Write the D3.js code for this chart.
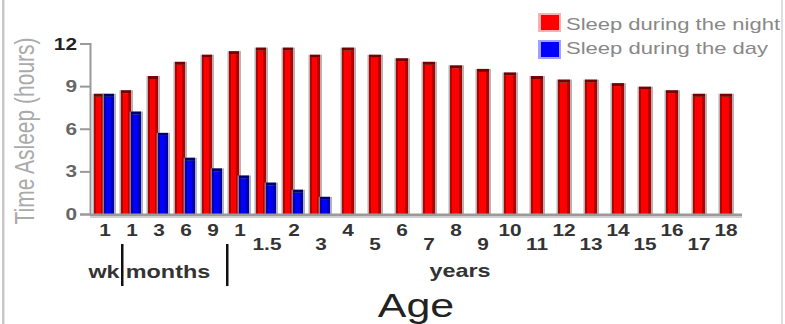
<!DOCTYPE html>
<html>
<head>
<meta charset="utf-8">
<script src="https://cdn.jsdelivr.net/npm/d3@7"></script>
<style>
  html, body { margin: 0; padding: 0; background: #fff; }
  svg { display: block; font-family: "Liberation Sans", Arial, sans-serif; }
</style>
</head>
<body>
<svg id="chart" width="785" height="324"></svg>
<script>
// ---- data ----
const categories = ["1wk","1mo","3mo","6mo","9mo","1yr","1.5yr","2yr","3yr","4yr","5yr","6yr","7yr","8yr","9yr","10yr","11yr","12yr","13yr","14yr","15yr","16yr","17yr","18yr"];
const tickLabels = ["1","1","3","6","9","1","1.5","2","3","4","5","6","7","8","9","10","11","12","13","14","15","16","17","18"];
const nightSleep = [8.25, 8.5, 9.5, 10.5, 11, 11.25, 11.5, 11.5, 11, 11.5, 11, 10.75, 10.5, 10.25, 10, 9.75, 9.5, 9.25, 9.25, 9, 8.75, 8.5, 8.25, 8.25];
const daySleep = [8.25, 7, 5.5, 3.75, 3, 2.5, 2, 1.5, 1, null, null, null, null, null, null, null, null, null, null, null, null, null, null, null];
const yTicks = [0, 3, 6, 9, 12];
const seriesNames = ["Sleep during the night", "Sleep during the day"];
const unitLabels = ["wk", "months", "years"];

// ---- layout ----
const SX = 1.3; // horizontal stretch of the original picture's text
const svg = d3.select("#chart");
const x = d3.scaleBand().domain(categories).range([91.5, 739.5]).padding(0);
const y = d3.scaleLinear().domain([0, 12]).range([214, 43.5]);
const base = y(0);

function stext(g, px, py, str, size, color, anchor, weight) {
  return g.append("text")
    .attr("transform", `translate(${px},${py}) scale(${SX},1)`)
    .attr("text-anchor", anchor || "middle")
    .attr("font-size", size)
    .attr("font-weight", weight || "normal")
    .attr("fill", color)
    .text(str);
}

// frame lines
svg.append("rect").attr("x", 2).attr("y", 0).attr("width", 2.5).attr("height", 324).attr("fill", "#c8c8c8");
svg.append("rect").attr("x", 781).attr("y", 0).attr("width", 2).attr("height", 324).attr("fill", "#dedede");

// y axis
const yAxis = d3.axisLeft(y).tickValues(yTicks).tickSize(10).tickFormat("");
const gy = svg.append("g").attr("transform", "translate(90,0)").call(yAxis);
gy.selectAll("path.domain").attr("stroke", "#999").attr("stroke-width", 2);
gy.selectAll(".tick line").attr("stroke", "#999").attr("stroke-width", 2);
yTicks.forEach(t => {
  stext(svg, 77, y(t) + 6, String(t), 16, t === 12 ? "#222" : "#666", "end", "bold");
});

// y label
svg.append("text")
  .attr("transform", `translate(34,131) scale(${SX},1) rotate(-90)`)
  .attr("text-anchor", "middle")
  .attr("font-size", 21)
  .attr("fill", "#aaa")
  .text("Time Asleep (hours)");

// bars
function drawBar(g, cx0, w, v, fill, dark, mid) {
  const top = y(v);
  g.append("rect").attr("x", cx0 - 1.5).attr("y", top - 3).attr("width", w + 3.5).attr("height", base - top + 3)
    .attr("fill", "#9a9a9a").attr("opacity", 0.75);
  g.append("rect").attr("x", cx0).attr("y", top).attr("width", w).attr("height", base - top).attr("fill", fill);
  g.append("rect").attr("x", cx0).attr("y", top).attr("width", 2).attr("height", base - top).attr("fill", mid);
  g.append("rect").attr("x", cx0 + w - 3).attr("y", top).attr("width", 3).attr("height", base - top).attr("fill", mid);
  g.append("rect").attr("x", cx0).attr("y", top - 3).attr("width", w).attr("height", 3).attr("fill", dark);
}
const gb = svg.append("g");
categories.forEach((c, i) => {
  const cx = x(c) + x.bandwidth() / 2;
  if (daySleep[i] != null) {
    drawBar(gb, cx - 11, 10, nightSleep[i], "#ff0000", "#7a0000", "#b30000");
    drawBar(gb, cx - 1, 10, daySleep[i], "#0000ff", "#000070", "#0000b0");
  } else {
    drawBar(gb, cx - 6, 12, nightSleep[i], "#ff0000", "#7a0000", "#b30000");
  }
});

// x axis line
svg.append("rect").attr("x", 90).attr("y", 213.5).attr("width", 652).attr("height", 3).attr("fill", "#9a9a9a");
svg.append("rect").attr("x", 90).attr("y", 216.5).attr("width", 652).attr("height", 1.5).attr("fill", "#d0d0d0");

// x tick labels (two staggered rows)
categories.forEach((c, i) => {
  const cx = x(c) + x.bandwidth() / 2;
  const lower = i >= 6 && i % 2 === 0;
  stext(svg, cx, lower ? 250 : 236, tickLabels[i], 16, "#333", "middle", "bold");
});

// unit labels and separators
svg.append("rect").attr("x", 121).attr("y", 244).attr("width", 2.5).attr("height", 42).attr("fill", "#111");
svg.append("rect").attr("x", 226).attr("y", 244).attr("width", 2.5).attr("height", 42).attr("fill", "#111");
stext(svg, 104, 278, unitLabels[0], 18, "#333", "middle", "bold");
stext(svg, 168, 278, unitLabels[1], 18, "#333", "middle", "bold");
stext(svg, 460, 277, unitLabels[2], 18, "#333", "middle", "bold");

// axis title
stext(svg, 416, 317, "Age", 33, "#222", "middle");

// legend
const colors = ["#ff0000", "#0000ff"];
const borders = ["#ffb0b0", "#a0a0ff"];
seriesNames.forEach((n, k) => {
  const ly = k === 0 ? 13 : 40;
  svg.append("rect").attr("x", 538).attr("y", ly).attr("width", 23).attr("height", 19).attr("fill", borders[k]);
  svg.append("rect").attr("x", 541).attr("y", ly + 2).attr("width", 18).attr("height", 15).attr("fill", colors[k]);
  svg.append("text")
    .attr("x", 566).attr("y", k === 0 ? 30 : 54)
    .attr("font-size", 17).attr("fill", "#888")
    .attr("textLength", k === 0 ? 214 : 202).attr("lengthAdjust", "spacingAndGlyphs")
    .text(n);
});
</script>
</body>
</html>
